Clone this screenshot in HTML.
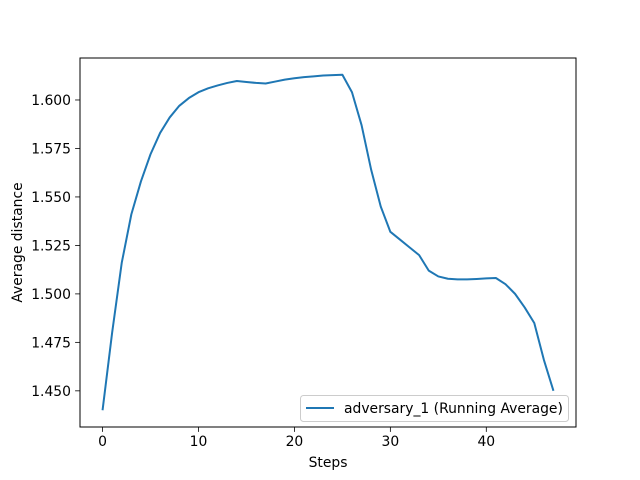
<!DOCTYPE html>
<html><head><meta charset="utf-8"><style>
body{margin:0;background:#fff;}
svg{display:block;font-family:"DejaVu Sans","Liberation Sans",sans-serif;}
</style></head><body>
<svg id="chart" width="640" height="480" xmlns="http://www.w3.org/2000/svg">
<rect width="640" height="480" fill="#fff"/>
<g id="g"></g>
</svg>
<script>
const steps = [];
for (let i = 0; i < 48; i++) steps.push(i);
const values = [1.440,1.480,1.516,1.541,1.558,1.572,1.583,1.591,1.597,1.601,1.604,1.606,1.6075,1.6088,1.6098,1.6093,1.6088,1.6085,1.6095,1.6105,1.6112,1.6118,1.6122,1.6126,1.6128,1.6130,1.604,1.587,1.564,1.545,1.532,1.528,1.524,1.520,1.512,1.509,1.5078,1.5075,1.5075,1.5077,1.508,1.5082,1.505,1.500,1.493,1.485,1.466,1.450];
const xTicks = [0,10,20,30,40];
const yTicks = [1.450,1.475,1.500,1.525,1.550,1.575,1.600];
const seriesLabel = "adversary_1 (Running Average)";

const L=80,R=576,T=58,B=427;
const FS=13.9;
const xmin=Math.min(...steps),xmax=Math.max(...steps),xm=(xmax-xmin)*0.05;
const ymin=Math.min(...values),ymax=Math.max(...values),ym=(ymax-ymin)*0.05;
const x=v=>L+(v-(xmin-xm))/((xmax+xm)-(xmin-xm))*(R-L);
const y=v=>B-(v-(ymin-ym))/((ymax+ym)-(ymin-ym))*(B-T);
const NS="http://www.w3.org/2000/svg";
const g=document.getElementById('g');
function mk(t,a,txt){const e=document.createElementNS(NS,t);for(const k in a)e.setAttribute(k,a[k]);if(txt!==undefined)e.textContent=txt;g.appendChild(e);return e;}

xTicks.forEach(v=>{
  const t=mk('line',{x1:x(v),x2:x(v),y1:B,y2:B+4.9,stroke:'#000','stroke-width':0.8});
  
  
  const l=mk('text',{x:x(v),y:B+19,'text-anchor':'middle','font-size':FS,fill:'#000'},String(v));
  
  
});
yTicks.forEach(v=>{
  const t=mk('line',{x1:L-4.9,x2:L,y1:y(v),y2:y(v),stroke:'#000','stroke-width':0.8});
  
  
  const l=mk('text',{x:L-9,y:y(v)+5,'text-anchor':'end','font-size':FS,fill:'#000'},v.toFixed(3));
  
  
});
const pts=steps.map((s,i)=>x(s).toFixed(2)+','+y(values[i]).toFixed(2)).join(' ');
const line=mk('polyline',{points:pts,fill:'none',stroke:'#1f77b4','stroke-width':2,'stroke-linejoin':'round'});


const fr=mk('rect',{x:L,y:T,width:R-L,height:B-T,fill:'none',stroke:'#000','stroke-width':1});


const xt=mk('text',{x:(L+R)/2,y:467,'text-anchor':'middle','font-size':FS,fill:'#000'},'Steps');


const yt=mk('text',{x:0,y:0,'text-anchor':'middle','font-size':FS,fill:'#000',transform:'translate(22,'+((T+B)/2)+') rotate(-90)'},'Average distance');


const lb=mk('rect',{x:300.5,y:395.5,width:268,height:26,rx:3,fill:'#fff','fill-opacity':0.8,stroke:'#ccc','stroke-width':1});


const ll=mk('line',{x1:306,x2:334,y1:408,y2:408,stroke:'#1f77b4','stroke-width':2});


const lt=mk('text',{x:344,y:413,'font-size':FS,fill:'#000'},seriesLabel);


</script>
</body></html>
